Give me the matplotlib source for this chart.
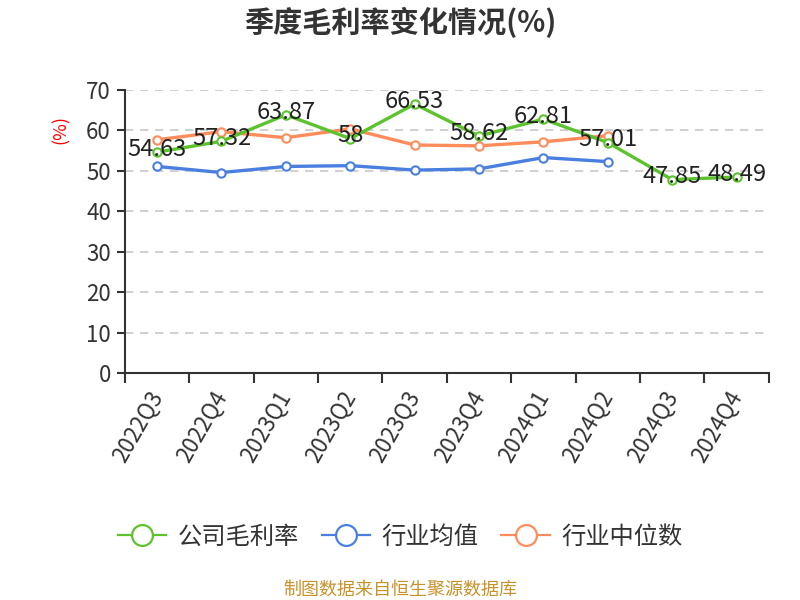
import matplotlib
matplotlib.use("Agg")
import matplotlib.pyplot as plt
from matplotlib.lines import Line2D

plt.rcParams['font.family'] = ['Noto Sans CJK SC', 'DejaVu Sans']

quarters = ['2022Q3', '2022Q4', '2023Q1', '2023Q2', '2023Q3',
            '2023Q4', '2024Q1', '2024Q2', '2024Q3', '2024Q4']
company = [54.63, 57.32, 63.87, 58.0, 66.53, 58.62, 62.81, 57.01, 47.85, 48.49]
company_labels = ['54.63', '57.32', '63.87', '58', '66.53',
                  '58.62', '62.81', '57.01', '47.85', '48.49']
industry_avg = [51.1, 49.6, 51.1, 51.3, 50.2, 50.5, 53.3, 52.3]
industry_median = [57.7, 59.7, 58.2, 60.4, 56.4, 56.2, 57.2, 58.7]

green = '#5cc22e'
blue = '#4a7fe0'
orange = '#ff8c5a'

fig = plt.figure(figsize=(8, 6), dpi=100)
ax = fig.add_axes([0.156, 0.378, 0.805, 0.472])

x_all = list(range(len(quarters)))
mk = dict(marker='o', markersize=6, markerfacecolor='white', markeredgewidth=1.5)
ax.plot(x_all[:len(industry_avg)], industry_avg, color=blue, lw=2.4,
        markeredgecolor=blue, zorder=3, **mk)
ax.plot(x_all[:len(industry_median)], industry_median, color=orange, lw=2.4,
        markeredgecolor=orange, zorder=3, **mk)
ax.plot(x_all, company, color=green, lw=2.4, markeredgecolor=green, zorder=4, **mk)

for xi, v, lab in zip(x_all, company, company_labels):
    ax.annotate(lab, (xi, v), xytext=(0, 2), textcoords='offset points',
                ha='center', va='center', fontsize=17, color='#222222', zorder=5)

ax.set_xlim(-0.5, len(quarters) - 0.5)
ax.set_ylim(0, 70)
ax.set_yticks(range(0, 71, 10))
ax.set_xticks(x_all)
ax.set_xticklabels(quarters, rotation=60, ha='right', va='center',
                   rotation_mode='anchor')
ax.set_xticks([i - 0.5 for i in range(len(quarters) + 1)], minor=True)
ax.tick_params(axis='x', which='major', length=0, labelsize=16, labelcolor='#333333', pad=14)
ax.tick_params(axis='x', which='minor', length=7, width=1.5, color='#333333')
ax.tick_params(axis='y', length=6, width=1.5, color='#333333', labelsize=16,
               labelcolor='#333333', pad=4)

ax.grid(axis='y', linestyle=(0, (5, 4)), color='#c8c8c8', lw=1.2)
ax.set_axisbelow(True)
for s in ['top', 'right']:
    ax.spines[s].set_visible(False)
for s in ['left', 'bottom']:
    ax.spines[s].set_color('#333333')
    ax.spines[s].set_linewidth(1.5)

ax.set_ylabel('(%)', color='red', fontsize=13)
ax.yaxis.set_label_coords(-0.085, 0.86)

fig.text(0.5, 0.962, '季度毛利率变化情况(%)', ha='center', va='center',
         fontsize=21, fontweight='bold', color='#333333')

handles = [Line2D([], [], color=c, lw=1.6, marker='o', markersize=15,
                  markerfacecolor='white', markeredgecolor=c, markeredgewidth=1.6)
           for c in (green, blue, orange)]
fig.legend(handles, ['公司毛利率', '行业均值', '行业中位数'], loc='center',
           bbox_to_anchor=(0.5, 0.105), ncol=3, frameon=False, fontsize=17.5,
           handlelength=2.0, columnspacing=0.95, handletextpad=0.45,
           labelcolor='#333333')

fig.text(0.5, 0.017, '制图数据来自恒生聚源数据库', ha='center', va='center',
         fontsize=13, color='#c8922a')

fig.savefig('out.png', dpi=100)
